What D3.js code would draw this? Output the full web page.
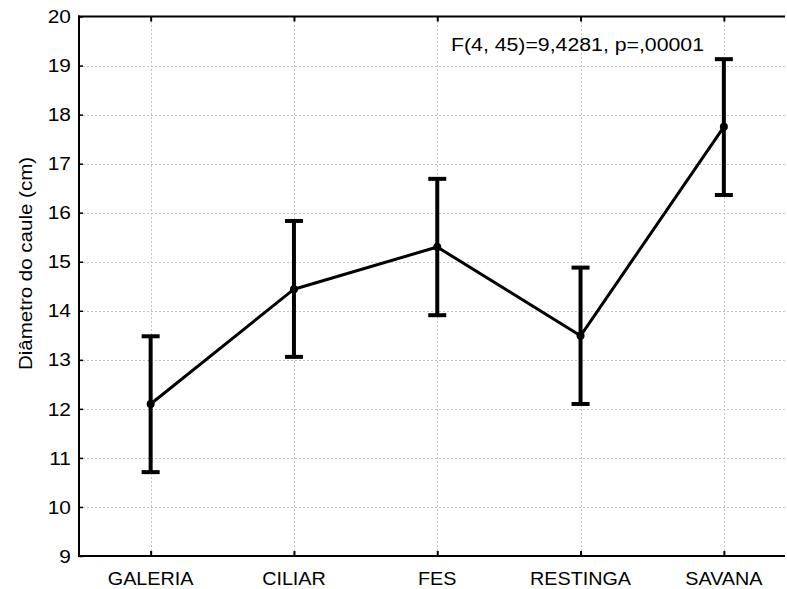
<!DOCTYPE html>
<html>
<head>
<meta charset="utf-8">
<script src="https://cdn.jsdelivr.net/npm/d3@7"></script>
<style>
  html, body { margin: 0; padding: 0; background: #fff; overflow: hidden; }
  svg { display: block; overflow: hidden; }
  text { font-family: "Liberation Sans", Arial, sans-serif; fill: #000; }
</style>
</head>
<body>
<svg id="chart" width="787" height="589"></svg>
<script>
const categories = ["GALERIA", "CILIAR", "FES", "RESTINGA", "SAVANA"];
const means = [12.10, 14.44, 15.30, 13.49, 17.75];
const lower = [10.71, 13.06, 13.91, 12.10, 16.36];
const upper = [13.48, 15.83, 16.69, 14.88, 19.13];
const yTicks = [9, 10, 11, 12, 13, 14, 15, 16, 17, 18, 19, 20];
const yLabel = "Diâmetro do caule (cm)";
const statText = "F(4, 45)=9,4281, p=,00001";

(function () {
const svg = d3.select("#chart");
const W = 785;
const pL = 79, pR = 795.5, pT = 16.5, pB = 556;
const fs = 19;

const x = d3.scalePoint().domain(categories).range([pL, pR]).padding(0.5);
const y = d3.scaleLinear().domain([9, 20]).range([pB, pT]);

const data = categories.map((c, i) => ({ c, m: means[i], lo: lower[i], hi: upper[i] }));

// gridlines
const grid = svg.append("g").attr("stroke", "#c4c4c4").attr("stroke-width", 1)
  .attr("stroke-dasharray", "2,2").attr("shape-rendering", "crispEdges");
grid.selectAll("line.h").data(yTicks.filter(t => t > 9 && t < 20)).join("line")
  .attr("x1", pL).attr("x2", W)
  .attr("y1", d => Math.round(y(d)) + 0.5).attr("y2", d => Math.round(y(d)) + 0.5);
grid.selectAll("line.v").data(categories).join("line")
  .attr("x1", d => Math.round(x(d)) + 0.5).attr("x2", d => Math.round(x(d)) + 0.5)
  .attr("y1", pT).attr("y2", pB);

// axes (ticks inward)
const yAxis = d3.axisLeft(y).tickValues(yTicks).tickSize(-4).tickFormat("");
svg.append("g").attr("transform", `translate(${pL},0)`).call(yAxis)
  .call(g => g.select(".domain").remove())
  .selectAll("line").attr("stroke", "#000").attr("stroke-width", 1.5);
const xAxisB = d3.axisBottom(x).tickSize(-5).tickFormat("");
svg.append("g").attr("transform", `translate(0,${pB})`).call(xAxisB)
  .call(g => g.select(".domain").remove())
  .selectAll("line").attr("stroke", "#000").attr("stroke-width", 2);
const xAxisT = d3.axisTop(x).tickSize(-5).tickFormat("");
svg.append("g").attr("transform", `translate(0,${pT})`).call(xAxisT)
  .call(g => g.select(".domain").remove())
  .selectAll("line").attr("stroke", "#000").attr("stroke-width", 2);

// frame: top, left, bottom (right side lies outside the window)
const fr = svg.append("g").attr("stroke", "#000").attr("stroke-width", 2);
fr.append("line").attr("x1", pL - 1).attr("x2", W).attr("y1", pT).attr("y2", pT);
fr.append("line").attr("x1", pL - 1).attr("x2", W).attr("y1", pB).attr("y2", pB);
fr.append("line").attr("x1", pL).attr("x2", pL).attr("y1", pT - 1).attr("y2", pB + 1);

// y tick labels
svg.append("g").selectAll("text").data(yTicks).join("text")
  .attr("transform", d => `translate(71,${y(d)}) scale(1.1,1)`)
  .attr("text-anchor", "end").attr("dy", "0.35em")
  .attr("font-size", fs).text(d => d);

// x tick labels
svg.append("g").selectAll("text").data(categories).join("text")
  .attr("transform", d => `translate(${x(d)},585) scale(1.04,1)`)
  .attr("text-anchor", "middle")
  .attr("font-size", fs).text(d => d);

// y label
svg.append("text")
  .attr("transform", `translate(32,263.5) rotate(-90) scale(1.08,1)`)
  .attr("text-anchor", "middle").attr("font-size", fs).text(yLabel);

// stat text
svg.append("text")
  .attr("transform", `translate(451,51) scale(1.12,1)`)
  .attr("font-size", fs).text(statText);

// error bars
const eb = svg.append("g").attr("stroke", "#000").attr("stroke-width", 4);
eb.selectAll("line.v").data(data).join("line")
  .attr("x1", d => x(d.c)).attr("x2", d => x(d.c))
  .attr("y1", d => y(d.lo)).attr("y2", d => y(d.hi));
eb.selectAll("line.t").data(data).join("line")
  .attr("x1", d => x(d.c) - 9).attr("x2", d => x(d.c) + 9)
  .attr("y1", d => y(d.hi)).attr("y2", d => y(d.hi));
eb.selectAll("line.b").data(data).join("line")
  .attr("x1", d => x(d.c) - 9).attr("x2", d => x(d.c) + 9)
  .attr("y1", d => y(d.lo)).attr("y2", d => y(d.lo));

// mean line
const line = d3.line().x(d => x(d.c)).y(d => y(d.m));
svg.append("path").datum(data).attr("d", line)
  .attr("fill", "none").attr("stroke", "#000").attr("stroke-width", 3)
  .attr("stroke-linejoin", "round");
svg.append("g").selectAll("circle").data(data).join("circle")
  .attr("cx", d => x(d.c)).attr("cy", d => y(d.m)).attr("r", 4).attr("fill", "#000");
})();
</script>
</body>
</html>
